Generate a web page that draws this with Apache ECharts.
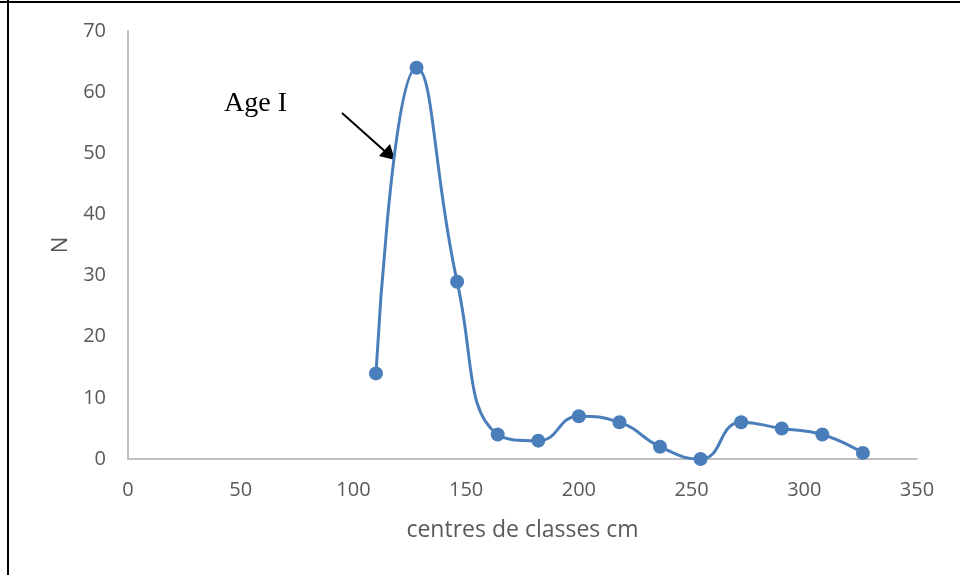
<!DOCTYPE html>
<html>
<head>
<meta charset="utf-8">
<script src="https://cdn.jsdelivr.net/npm/echarts@6/dist/echarts.min.js"></script>
<style>
  html, body { margin: 0; padding: 0; background: #fff; }
  #chart { width: 960px; height: 575px; }
</style>
</head>
<body>
<div id="chart"></div>
<script>
// centres de classes (cm) et effectifs
const classCentres = [110, 128, 146, 164, 182, 200, 218, 236, 254, 272, 290, 308, 326];
const counts = [14, 64, 29, 4, 3, 7, 6, 2, 0, 6, 5, 4, 1];
const xTicks = [0, 50, 100, 150, 200, 250, 300, 350];
const yTicks = [0, 10, 20, 30, 40, 50, 60, 70];

const labelFont = "'Open Sans', 'Noto Sans', sans-serif";
const axisGray = '#bfbfbf';
const textGray = '#595959';
const lineBlue = '#4a7ebb';

const chart = echarts.init(document.getElementById('chart'));

const option = {
  backgroundColor: '#fff',
  animation: false,
  textStyle: { fontFamily: labelFont },
  grid: { left: 128, right: 43, top: 31, bottom: 116 },
  xAxis: {
    type: 'value',
    min: xTicks[0],
    max: xTicks[xTicks.length - 1],
    interval: 50,
    name: 'centres de classes cm',
    nameLocation: 'middle',
    nameGap: 60,
    nameTextStyle: { color: textGray, fontSize: 23, fontFamily: labelFont },
    axisLine: { show: true, lineStyle: { color: axisGray, width: 2 } },
    axisTick: { show: false },
    splitLine: { show: false },
    axisLabel: { color: textGray, fontSize: 20, margin: 21 },
  },
  yAxis: {
    type: 'value',
    min: yTicks[0],
    max: yTicks[yTicks.length - 1],
    interval: 10,
    name: 'N',
    nameLocation: 'middle',
    nameGap: 55,
    nameRotate: 90,
    nameTextStyle: { color: textGray, fontSize: 22, fontFamily: labelFont },
    axisLine: { show: true, lineStyle: { color: axisGray, width: 2 } },
    axisTick: { show: false },
    splitLine: { show: false },
    axisLabel: { color: textGray, fontSize: 20, margin: 22 },
  },
  series: [
    {
      type: 'line',
      data: classCentres.map((c, i) => [c, counts[i]]),
      smooth: 0.5,
      symbol: 'circle',
      symbolSize: 14,
      lineStyle: { color: lineBlue, width: 3 },
      itemStyle: { color: lineBlue },
      z: 3,
    },
  ],
  graphic: [
    // cadre (haut et gauche)
    { type: 'line', shape: { x1: 0, y1: 2, x2: 960, y2: 2 }, style: { stroke: '#000', lineWidth: 2 } },
    { type: 'line', shape: { x1: 8, y1: 0, x2: 8, y2: 575 }, style: { stroke: '#000', lineWidth: 2 } },
    // annotation
    {
      type: 'text',
      left: 224,
      top: 90,
      style: { text: 'Age I', font: "28px 'Liberation Serif', 'DejaVu Serif', serif", fill: '#000' },
    },
    { type: 'line', shape: { x1: 342, y1: 113, x2: 388, y2: 154 }, style: { stroke: '#000', lineWidth: 2 } },
    {
      type: 'polygon',
      shape: { points: [[395, 160], [379, 156], [390, 144]] },
      style: { fill: '#000' },
    },
  ],
};

chart.setOption(option);
</script>
</body>
</html>
